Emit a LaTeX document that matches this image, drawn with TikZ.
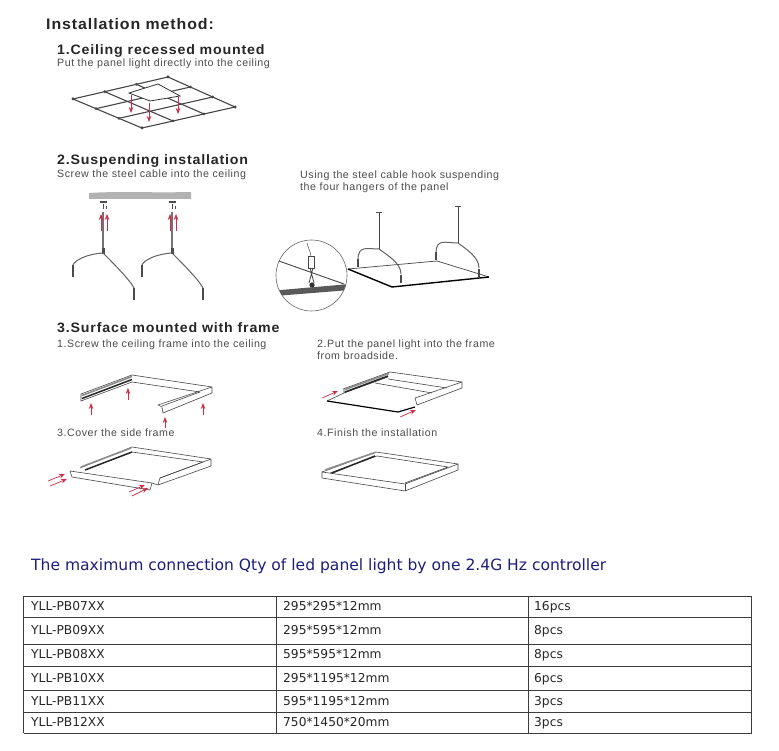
\documentclass[tikz,border=0pt]{standalone}
\usepackage{fontspec}
\setmainfont{Liberation Sans}
\newfontfamily\headfont[LetterSpace=6,FakeStretch=1.04]{Liberation Sans Bold}
\newfontfamily\notefont[LetterSpace=5]{Liberation Sans}
\newfontfamily\tablefont{DejaVu Sans}
\usepackage{xcolor}
\usepackage{tikz}
\usetikzlibrary{positioning,arrows.meta,calc}
\definecolor{arrowred}{RGB}{205,45,70}
\definecolor{inkgray}{RGB}{70,70,70}
\definecolor{titleblue}{RGB}{30,30,125}
\definecolor{rulegray}{RGB}{60,60,60}
\tikzset{
  headline/.style={anchor=base west, inner sep=0pt, font=\headfont\fontsize{15.3}{16}\selectfont, text=black!85},
  subhead/.style={anchor=base west, inner sep=0pt, font=\headfont\fontsize{13.65}{15}\selectfont, text=black!85},
  note/.style={anchor=base west, inner sep=0pt, font=\notefont\fontsize{10.65}{12}\selectfont, text=black!70, align=left},
  cell/.style={anchor=base west, inner sep=0pt, font=\tablefont\fontsize{12.25}{14}\selectfont, text=black!85},
  pull/.style={arrowred, line width=0.7pt, -{Stealth[length=6pt,width=4.5pt]}},
  frameline/.style={inkgray, line width=0.6pt, line join=round},
  cable/.style={inkgray!85, line width=1pt},
  darkrail/.style={black!85, line width=1.5pt},
  greyrail/.style={black!45, line width=1.6pt},
}
\begin{document}
\begin{tikzpicture}[x=1pt,y=-1pt]
  \useasboundingbox (0,0) rectangle (779,751);
  \fill[white] (0,0) rectangle (779,751);
  % headings and notes
  \node[headline] (title) at (46,29.5) {Installation method:};
  \node[subhead] (headone) at (57,54.5) {1.Ceiling recessed mounted};
  \node[note] (noteone) at (57,66.5) {Put the panel light directly into the ceiling};
  \node[subhead] (headtwo) at (57,164.5) {2.Suspending installation};
  \node[note] (notetwo) at (57,177.5) {Screw the steel cable into the ceiling};
  \node[note] (notehook) at (300,178.5) {Using the steel cable hook suspending};
  \node[note] (notehooktwo) at (300,190.5) {the four hangers of the panel};
  \node[subhead] (headthree) at (57,332) {3.Surface mounted with frame};
  \node[note] (stepone) at (57,347.5) {1.Screw the ceiling frame into the ceiling};
  \node[note] (steptwo) at (317,347.5) {2.Put the panel light into the frame};
  \node[note] (steptwob) at (317,359.5) {from broadside.};
  \node[note] (stepthree) at (57,436.5) {3.Cover the side frame};
  \node[note] (stepfour) at (317,436.5) {4.Finish the installation};

  % ceiling grid
  \coordinate (gl) at (73,99);
  \coordinate (gt) at (168,77);
  \coordinate (gr) at (235,107);
  \coordinate (gb) at (142,128);
  \foreach \i in {0,1,2,3} {
    \draw[inkgray, line width=1.1pt] ($(gl)!\i/3!(gt)$) -- ($(gb)!\i/3!(gr)$);
    \draw[inkgray, line width=1.1pt] ($(gl)!\i/3!(gb)$) -- ($(gt)!\i/3!(gr)$);
    \fill[inkgray] ($(gl)!\i/3!(gt)$) circle (1.5);
    \fill[inkgray] ($(gb)!\i/3!(gr)$) circle (1.5);
    \fill[inkgray] ($(gl)!\i/3!(gb)$) circle (1.5);
    \fill[inkgray] ($(gt)!\i/3!(gr)$) circle (1.5);
  }
  \draw[black!80, fill=white, line width=0.8pt] (129,93) -- (158,84) -- (180,96) -- (150,101) -- cycle;
  \draw[pull] (131,95) -- (131,113);
  \draw[pull] (149,103) -- (149,122);
  \draw[pull] (178,97) -- (178,114);

  % ceiling and suspended cables
  \fill[black!30] (89,199) -- (89,193) .. controls (120,191) and (150,193) .. (191,192) -- (191,199) -- cycle;
  \foreach \dx in {0,69} {
    \begin{scope}[xshift=\dx]
      \draw[black!70, line width=1.2pt] (100,202) -- (107,202);
      \draw[black!70, line width=1pt] (103,204) -- (103,209);
      \draw[black!70, line width=0.6pt] (106,206) -- (106,209);
      \draw[black!55, line width=1.2pt] (103,212) -- (103,250);
      \draw[pull] (101,231) -- (101,214);
      \draw[pull] (107,231) -- (107,214);
      \fill[black!70] (101.5,248) rectangle (104.5,254);
      \draw[cable] (103,253) .. controls (87,254) and (75,260) .. (73,265);
      \draw[cable] (103,253) .. controls (113,263) and (130,280) .. (134,288);
      \draw[black!70, line width=1.6pt] (73,265) -- (73,277);
      \draw[black!70, line width=1.6pt] (134,288) -- (134,300);
    \end{scope}
  }

  % suspended panel
  \draw[frameline, line width=0.7pt] (348,269) -- (437,261) -- (489,277);
  \draw[black, line width=1.4pt] (348,269) -- (392,287) -- (489,277);
  \foreach \tx/\ty/\lx/\ly/\rx/\ry in {379/213/358/267/401/283, 458/207/436/260/479/277} {
    \draw[black!70, line width=1pt] (\tx-3,\ty) -- (\tx+3,\ty);
    \draw[inkgray, line width=0.6pt] (\tx,\ty) -- (\tx,\ty+36);
    \draw[cable] (\tx,\ty+36) .. controls (\tx-12,\ty+36) and (\lx,\ly-22) .. (\lx,\ly-7);
    \draw[cable] (\tx,\ty+36) .. controls (\tx+8,\ty+42) and (\rx,\ry-20) .. (\rx,\ry-9);
    \draw[black!70, line width=1.3pt] (\lx,\ly-8) -- (\lx,\ly);
    \draw[black!70, line width=1.3pt] (\rx,\ry-8) -- (\rx,\ry);
  }

  % detail circle
  \begin{scope}
    \clip (311.5,275.5) circle (35.5);
    \fill[black!65] (275,290.5) -- (350,284) -- (350,290) -- (275,296) -- cycle;
    \draw[inkgray, line width=0.9pt] (276,260) -- (344,284);
    \draw[inkgray, line width=0.5pt] (307,243) .. controls (308,248) and (310,250) .. (311,256);
    \draw[inkgray, fill=white, line width=0.7pt] (308,256) rectangle (314,268);
    \draw[inkgray, line width=0.8pt] (310,268) -- (314,283) (313,268) -- (309,283);
    \fill[black!80] (312,285) circle (2.6);
  \end{scope}
  \draw[black!60, line width=0.6pt] (311.5,275.5) circle (35.5);

  % frame, step 1
  \draw[frameline] (81,394) -- (132,375) -- (212,387) -- (212,393) -- (163,413) -- (162,407) -- (158,405) -- (212,387);
  \draw[frameline] (132,382) -- (200,392) -- (162,406);
  \draw[frameline] (81,394) -- (81,401) -- (132,382);
  \draw[greyrail] (82,395.5) -- (132,376.5);
  \draw[darkrail] (82,398.5) -- (132,379.5);
  \draw[pull] (91,415) -- (91,403);
  \draw[pull] (128,400) -- (128,388);
  \draw[pull] (165,428) -- (165,417);
  \draw[pull] (203,415) -- (203,403);

  % frame, step 3
  \draw[frameline] (80,468) -- (132,447) -- (211,459) -- (211,466) -- (158,485) -- (152,483);
  \draw[frameline] (132,452) -- (203,462) -- (160,478);
  \draw[frameline] (211,459) -- (160,478) -- (158,485);
  \draw[frameline, fill=white] (70,471) -- (152,483) -- (150,490) -- (72,477) -- cycle;
  \draw[greyrail] (81,467) -- (131,448);
  \draw[darkrail] (85,470) -- (132,452);
  \draw[pull] (48,481) -- (65,474);
  \draw[pull] (50,486) -- (67,479);
  \draw[pull] (129,492) -- (145,485);
  \draw[pull] (132,496) -- (148,488);

  % frame, step 2
  \draw[frameline] (343,389) -- (390,372) -- (462,382) -- (462,388) -- (417,405) -- (415,398) -- (462,382);
  \draw[frameline] (344,389) -- (344,393) -- (388,377);
  \draw[frameline] (388,379) -- (447,388);
  \draw[frameline] (375,383) -- (432,393);
  \draw[frameline] (327,401) -- (344,393);
  \draw[black, line width=1.2pt] (327,401) -- (398,412) -- (415,407);
  \draw[greyrail] (345,389.5) -- (389,373.5);
  \draw[darkrail] (345,392) -- (388,376);
  \draw[pull] (322,398) -- (338,391);
  \draw[pull] (400,417) -- (416,410);

  % frame, step 4
  \draw[frameline] (322,472) -- (376,452) -- (458,464) -- (458,470) -- (405,491) -- (322,478) -- cycle;
  \draw[frameline] (322,472) -- (405,484) -- (458,464);
  \draw[frameline] (405,484) -- (405,491);
  \draw[frameline] (330,473) -- (377,456) -- (448,467) -- (405,483);
  \draw[greyrail] (325,470) -- (375,452.5);
  \draw[darkrail] (332,473) -- (375,456);

  % controller table
  \node[anchor=base west, inner sep=0pt, font=\tablefont\fontsize{15.55}{17}\selectfont, text=titleblue] (tabletitle) at (31,570) {The maximum connection Qty of led panel light by one 2.4G Hz controller};
  \foreach \ya in {596,617,644,666,690,712,733}
    \draw[rulegray, line width=0.9pt] (23.5,\ya) -- (751.5,\ya);
  \foreach \xa in {23.5,276,528,751.5}
    \draw[rulegray, line width=0.9pt] (\xa,596) -- (\xa,733);
  \foreach \rowname/\base/\model/\size/\qty in {
    a/610.5/YLL-PB07XX/295*295*12mm/16pcs,
    b/634.5/YLL-PB09XX/295*595*12mm/8pcs,
    c/658.5/YLL-PB08XX/595*595*12mm/8pcs,
    d/682/YLL-PB10XX/295*1195*12mm/6pcs,
    e/705/YLL-PB11XX/595*1195*12mm/3pcs,
    f/726.5/YLL-PB12XX/750*1450*20mm/3pcs} {
    \node[cell] (model\rowname) at (31,\base) {\model};
    \node[cell] (size\rowname) at (283,\base) {\size};
    \node[cell] (qty\rowname) at (534,\base) {\qty};
  }
\end{tikzpicture}
\end{document}
